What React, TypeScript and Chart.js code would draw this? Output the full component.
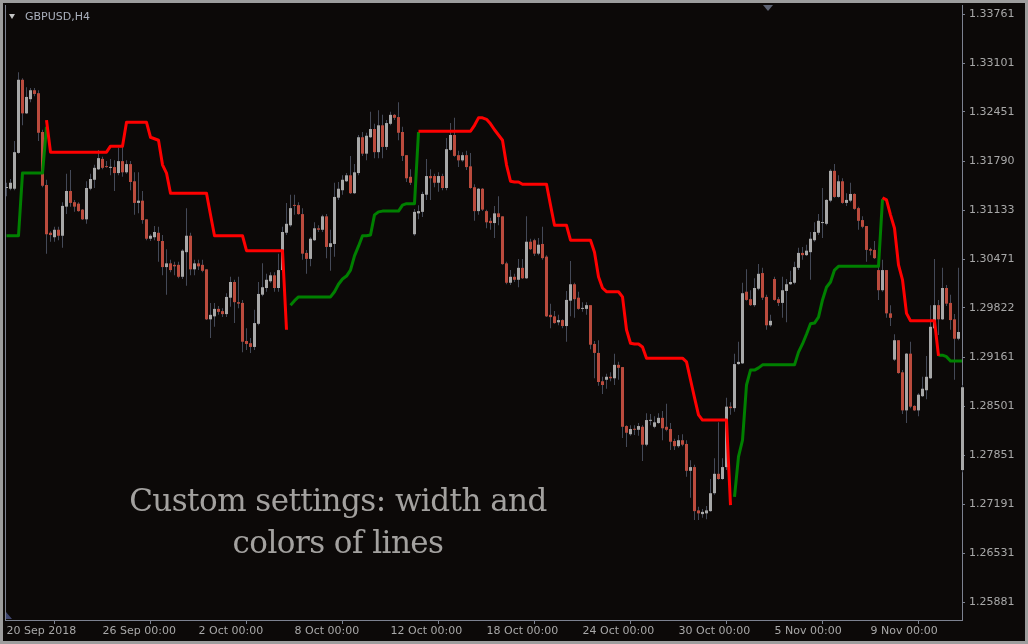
import React, { useEffect, useRef } from "react";
import { Chart, registerables } from "chart.js";

Chart.register(...registerables);

const _ = null;

// GBPUSD H4 candles, bar 0 = 20 Sep 2018 00:00
const openP = [
  1.3143, 1.3142, 1.3142, 1.3190, 1.3288, 1.3243, 1.3262, 1.3274, 1.3270, 1.3218,
  1.3147, 1.3083, 1.3077, 1.3087, 1.3079, 1.3118, 1.3139, 1.3124, 1.3122, 1.3114,
  1.3101, 1.3142, 1.3154, 1.3168, 1.3182, 1.3172, 1.3170, 1.3171, 1.3163, 1.3179,
  1.3164, 1.3175, 1.3152, 1.3123, 1.3126, 1.3101, 1.3075, 1.3077, 1.3083, 1.3072,
  1.3037, 1.3042, 1.3040, 1.3040, 1.3024, 1.3057, 1.3079, 1.3034, 1.3042, 1.3040,
  1.3034, 1.2967, 1.2971, 1.2981, 1.2978, 1.2974, 1.2996, 1.3017, 1.2990, 1.2989,
  1.2938, 1.2935, 1.2930, 1.2961, 1.3000, 1.3009, 1.3018, 1.3026, 1.3009, 1.3033,
  1.3083, 1.3093, 1.3120, 1.3120, 1.3108, 1.3056, 1.3048, 1.3073, 1.3089, 1.3087,
  1.3105, 1.3064, 1.3068, 1.3130, 1.3140, 1.3152, 1.3160, 1.3136, 1.3163, 1.3211,
  1.3189, 1.3211, 1.3222, 1.3191, 1.3227, 1.3198, 1.3229, 1.3241, 1.3238, 1.3218,
  1.3187, 1.3158, 1.3081, 1.3109, 1.3111, 1.3134, 1.3159, 1.3159, 1.3150, 1.3159,
  1.3143, 1.3194, 1.3214, 1.3187, 1.3180, 1.3187, 1.3172, 1.3144, 1.3112, 1.3142,
  1.3112, 1.3099, 1.3096, 1.3109, 1.3105, 1.3042, 1.3016, 1.3024, 1.3020, 1.3036,
  1.3022, 1.3071, 1.3073, 1.3055, 1.3068, 1.3051, 1.2973, 1.2971, 1.2963, 1.2966,
  1.2958, 1.2992, 1.3014, 1.2996, 1.2981, 1.2981, 1.2986, 1.2934, 1.2922, 1.2884,
  1.2886, 1.2890, 1.2888, 1.2906, 1.2903, 1.2824, 1.2813, 1.2820, 1.2819, 1.2823,
  1.2799, 1.2831, 1.2823, 1.2828, 1.2835, 1.2823, 1.2820, 1.2804, 1.2797, 1.2805,
  1.2800, 1.2764, 1.2769, 1.2711, 1.2706, 1.2707, 1.2710, 1.2734, 1.2760, 1.2753,
  1.2769, 1.2850, 1.2848, 1.2907, 1.2908, 1.3004, 1.2994, 1.2986, 1.3008, 1.3029,
  1.2997, 1.2959, 1.3021, 1.2994, 1.2989, 1.3005, 1.3014, 1.3016, 1.3036, 1.3056,
  1.3053, 1.3057, 1.3073, 1.3083, 1.3096, 1.3095, 1.3126, 1.3166, 1.3131, 1.3152,
  1.3123, 1.3126, 1.3135, 1.3116, 1.3100, 1.3092, 1.3061, 1.3060, 1.3033, 1.3006,
  1.3033, 1.2975, 1.2913, 1.2939, 1.2896, 1.2845, 1.2921, 1.2851, 1.2845, 1.2864,
  1.2872, 1.2888, 1.2955, 1.2986, 1.2967, 1.3009, 1.2989, 1.2967, 1.2941, 1.2765,
];

const highP = [
  1.3150, 1.3155, 1.3206, 1.3298, 1.3290, 1.3278, 1.3277, 1.3277, 1.3274, 1.3221,
  1.3154, 1.3085, 1.3091, 1.3091, 1.3124, 1.3162, 1.3167, 1.3127, 1.3124, 1.3115,
  1.3152, 1.3162, 1.3174, 1.3194, 1.3185, 1.3179, 1.3182, 1.3180, 1.3197, 1.3201,
  1.3180, 1.3179, 1.3164, 1.3164, 1.3139, 1.3101, 1.3081, 1.3092, 1.3091, 1.3080,
  1.3061, 1.3047, 1.3044, 1.3044, 1.3061, 1.3116, 1.3083, 1.3047, 1.3047, 1.3047,
  1.3034, 1.2989, 1.2989, 1.2985, 1.2982, 1.3002, 1.3024, 1.3020, 1.3024, 1.2993,
  1.2955, 1.2942, 1.2980, 1.3017, 1.3042, 1.3028, 1.3030, 1.3030, 1.3055, 1.3091,
  1.3123, 1.3134, 1.3134, 1.3124, 1.3116, 1.3060, 1.3077, 1.3097, 1.3093, 1.3107,
  1.3108, 1.3087, 1.3150, 1.3151, 1.3160, 1.3163, 1.3186, 1.3175, 1.3214, 1.3218,
  1.3217, 1.3245, 1.3229, 1.3247, 1.3241, 1.3234, 1.3245, 1.3242, 1.3258, 1.3225,
  1.3187, 1.3168, 1.3115, 1.3120, 1.3138, 1.3182, 1.3168, 1.3162, 1.3164, 1.3162,
  1.3210, 1.3230, 1.3237, 1.3193, 1.3191, 1.3193, 1.3190, 1.3148, 1.3143, 1.3143,
  1.3114, 1.3103, 1.3119, 1.3132, 1.3105, 1.3044, 1.3033, 1.3028, 1.3048, 1.3048,
  1.3105, 1.3075, 1.3075, 1.3076, 1.3091, 1.3053, 1.2988, 1.2978, 1.2973, 1.2967,
  1.3005, 1.3045, 1.3016, 1.3004, 1.2990, 1.2990, 1.2986, 1.2938, 1.2939, 1.2890,
  1.2894, 1.2896, 1.2921, 1.2910, 1.2903, 1.2825, 1.2825, 1.2825, 1.2828, 1.2825,
  1.2841, 1.2840, 1.2837, 1.2841, 1.2844, 1.2854, 1.2828, 1.2807, 1.2812, 1.2813,
  1.2805, 1.2778, 1.2772, 1.2716, 1.2713, 1.2717, 1.2753, 1.2781, 1.2829, 1.2781,
  1.2862, 1.2856, 1.2921, 1.2937, 1.3016, 1.3034, 1.3006, 1.3022, 1.3041, 1.3036,
  1.3000, 1.2973, 1.3024, 1.2997, 1.3024, 1.3021, 1.3032, 1.3044, 1.3063, 1.3064,
  1.3067, 1.3084, 1.3097, 1.3108, 1.3143, 1.3128, 1.3168, 1.3175, 1.3160, 1.3156,
  1.3136, 1.3150, 1.3136, 1.3118, 1.3105, 1.3092, 1.3063, 1.3072, 1.3038, 1.3047,
  1.3033, 1.2986, 1.2947, 1.2939, 1.2899, 1.2922, 1.2937, 1.2852, 1.2868, 1.2890,
  1.2918, 1.2986, 1.3048, 1.2993, 1.3036, 1.3013, 1.3000, 1.2974, 1.3036, 1.2879,
];

const lowP = [
  1.3132, 1.3140, 1.3140, 1.3189, 1.3227, 1.3242, 1.3258, 1.3266, 1.3206, 1.3144,
  1.3055, 1.3071, 1.3071, 1.3073, 1.3063, 1.3108, 1.3118, 1.3111, 1.3111, 1.3100,
  1.3095, 1.3140, 1.3143, 1.3167, 1.3168, 1.3170, 1.3160, 1.3139, 1.3160, 1.3158,
  1.3162, 1.3140, 1.3107, 1.3109, 1.3095, 1.3073, 1.3072, 1.3073, 1.3044, 1.3026,
  1.3000, 1.3030, 1.3026, 1.3022, 1.3021, 1.3012, 1.3026, 1.3026, 1.3033, 1.3030,
  1.2966, 1.2942, 1.2957, 1.2973, 1.2970, 1.2970, 1.2984, 1.2962, 1.2982, 1.2923,
  1.2926, 1.2922, 1.2926, 1.2959, 1.2998, 1.3004, 1.3016, 1.3004, 1.3004, 1.3030,
  1.3080, 1.3091, 1.3107, 1.3107, 1.3047, 1.3028, 1.3038, 1.3072, 1.3084, 1.3084,
  1.3049, 1.3032, 1.3051, 1.3127, 1.3134, 1.3151, 1.3135, 1.3135, 1.3160, 1.3186,
  1.3180, 1.3210, 1.3183, 1.3183, 1.3183, 1.3194, 1.3227, 1.3234, 1.3207, 1.3179,
  1.3151, 1.3147, 1.3079, 1.3101, 1.3104, 1.3127, 1.3127, 1.3144, 1.3138, 1.3140,
  1.3140, 1.3193, 1.3185, 1.3171, 1.3178, 1.3167, 1.3142, 1.3099, 1.3107, 1.3112,
  1.3089, 1.3087, 1.3076, 1.3093, 1.3040, 1.3014, 1.3013, 1.3017, 1.3010, 1.3021,
  1.3021, 1.3060, 1.3052, 1.3053, 1.3047, 1.2970, 1.2955, 1.2961, 1.2959, 1.2955,
  1.2937, 1.2971, 1.2969, 1.2980, 1.2977, 1.2973, 1.2927, 1.2888, 1.2878, 1.2867,
  1.2874, 1.2884, 1.2879, 1.2886, 1.2808, 1.2796, 1.2811, 1.2812, 1.2811, 1.2777,
  1.2797, 1.2825, 1.2821, 1.2827, 1.2805, 1.2817, 1.2792, 1.2792, 1.2795, 1.2797,
  1.2756, 1.2728, 1.2698, 1.2698, 1.2701, 1.2699, 1.2709, 1.2732, 1.2752, 1.2752,
  1.2765, 1.2839, 1.2843, 1.2906, 1.2907, 1.2992, 1.2985, 1.2984, 1.3006, 1.2993,
  1.2953, 1.2957, 1.2992, 1.2985, 1.2969, 1.2963, 1.3013, 1.3014, 1.3033, 1.3047,
  1.3052, 1.3020, 1.3071, 1.3080, 1.3076, 1.3093, 1.3124, 1.3130, 1.3130, 1.3122,
  1.3119, 1.3124, 1.3114, 1.3087, 1.3089, 1.3044, 1.3053, 1.3048, 1.2993, 1.3004,
  1.2969, 1.2958, 1.2911, 1.2894, 1.2840, 1.2828, 1.2848, 1.2844, 1.2837, 1.2863,
  1.2860, 1.2887, 1.2953, 1.2946, 1.2966, 1.2985, 1.2953, 1.2886, 1.2939, 1.2762,
];

const closeP = [
  1.3144, 1.3150, 1.3191, 1.3288, 1.3243, 1.3265, 1.3274, 1.3269, 1.3217, 1.3146,
  1.3081, 1.3080, 1.3087, 1.3079, 1.3119, 1.3139, 1.3123, 1.3118, 1.3112, 1.3101,
  1.3143, 1.3155, 1.3170, 1.3183, 1.3170, 1.3171, 1.3171, 1.3163, 1.3179, 1.3164,
  1.3175, 1.3151, 1.3123, 1.3126, 1.3100, 1.3075, 1.3079, 1.3084, 1.3072, 1.3037,
  1.3042, 1.3033, 1.3038, 1.3024, 1.3059, 1.3079, 1.3034, 1.3042, 1.3038, 1.3032,
  1.2967, 1.2973, 1.2981, 1.2977, 1.2974, 1.2997, 1.3017, 1.2990, 1.2988, 1.2937,
  1.2934, 1.2930, 1.2962, 1.3001, 1.3010, 1.3020, 1.3026, 1.3009, 1.3033, 1.3084,
  1.3095, 1.3116, 1.3119, 1.3108, 1.3055, 1.3048, 1.3075, 1.3089, 1.3087, 1.3105,
  1.3064, 1.3069, 1.3131, 1.3142, 1.3154, 1.3160, 1.3136, 1.3164, 1.3211, 1.3189,
  1.3213, 1.3222, 1.3191, 1.3227, 1.3198, 1.3230, 1.3241, 1.3237, 1.3217, 1.3186,
  1.3156, 1.3150, 1.3111, 1.3112, 1.3135, 1.3159, 1.3156, 1.3150, 1.3159, 1.3143,
  1.3195, 1.3214, 1.3186, 1.3180, 1.3187, 1.3171, 1.3143, 1.3112, 1.3142, 1.3114,
  1.3097, 1.3096, 1.3109, 1.3104, 1.3041, 1.3016, 1.3024, 1.3020, 1.3036, 1.3022,
  1.3071, 1.3061, 1.3055, 1.3067, 1.3049, 1.2971, 1.2970, 1.2962, 1.2966, 1.2958,
  1.2993, 1.3014, 1.2994, 1.2981, 1.2982, 1.2986, 1.2933, 1.2922, 1.2883, 1.2879,
  1.2890, 1.2888, 1.2906, 1.2902, 1.2823, 1.2815, 1.2820, 1.2819, 1.2824, 1.2799,
  1.2832, 1.2832, 1.2829, 1.2835, 1.2821, 1.2819, 1.2803, 1.2797, 1.2805, 1.2799,
  1.2764, 1.2769, 1.2710, 1.2707, 1.2709, 1.2711, 1.2734, 1.2760, 1.2753, 1.2769,
  1.2850, 1.2848, 1.2907, 1.2910, 1.3002, 1.2993, 1.2986, 1.3009, 1.3028, 1.2996,
  1.2959, 1.2965, 1.2993, 1.2989, 1.3006, 1.3014, 1.3017, 1.3037, 1.3056, 1.3053,
  1.3059, 1.3075, 1.3084, 1.3099, 1.3097, 1.3127, 1.3166, 1.3131, 1.3152, 1.3123,
  1.3127, 1.3135, 1.3115, 1.3099, 1.3091, 1.3060, 1.3059, 1.3049, 1.3006, 1.3033,
  1.2975, 1.2969, 1.2939, 1.2895, 1.2845, 1.2921, 1.2850, 1.2845, 1.2866, 1.2874,
  1.2890, 1.2957, 1.2986, 1.2967, 1.3009, 1.2988, 1.2966, 1.2941, 1.2950, 1.2876,
];

// Indicator: upper (red) line
const upperLine = [
  _, _, _, _, _, _, _, _, _, _,
  1.3234, 1.3191, 1.3191, 1.3191, 1.3191, 1.3191, 1.3191, 1.3191, 1.3191, 1.3191,
  1.3191, 1.3191, 1.3191, 1.3191, 1.3191, 1.3191, 1.3199, 1.3199, 1.3199, 1.3199,
  1.3231, 1.3231, 1.3231, 1.3231, 1.3231, 1.3231, 1.3211, 1.3209, 1.3207, 1.3174,
  1.3163, 1.3136, 1.3136, 1.3136, 1.3136, 1.3136, 1.3136, 1.3136, 1.3136, 1.3136,
  1.3136, 1.3107, 1.3079, 1.3079, 1.3079, 1.3079, 1.3079, 1.3079, 1.3079, 1.3079,
  1.3059, 1.3059, 1.3059, 1.3059, 1.3059, 1.3059, 1.3059, 1.3059, 1.3059, 1.3059,
  1.2953, _, _, _, _, _, _, _, _, _,
  _, _, _, _, _, _, _, _, _, _,
  _, _, _, _, _, _, _, _, _, _,
  _, _, _, 1.3219, 1.3219, 1.3219, 1.3219, 1.3219, 1.3219, 1.3219,
  1.3219, 1.3219, 1.3219, 1.3219, 1.3219, 1.3219, 1.3219, 1.3227, 1.3237, 1.3237,
  1.3235, 1.3229, 1.3221, 1.3214, 1.3207, 1.3174, 1.3152, 1.3151, 1.3151, 1.3148,
  1.3148, 1.3148, 1.3148, 1.3148, 1.3148, 1.3148, 1.3120, 1.3093, 1.3093, 1.3093,
  1.3093, 1.3073, 1.3073, 1.3073, 1.3073, 1.3073, 1.3073, 1.3057, 1.3024, 1.3009,
  1.3004, 1.3004, 1.3004, 1.3004, 1.2997, 1.2953, 1.2935, 1.2934, 1.2934, 1.2930,
  1.2915, 1.2915, 1.2915, 1.2915, 1.2915, 1.2915, 1.2915, 1.2915, 1.2915, 1.2915,
  1.2910, 1.2886, 1.2862, 1.2839, 1.2832, 1.2832, 1.2832, 1.2832, 1.2832, 1.2832,
  1.2832, 1.2718, _, _, _, _, _, _, _, _,
  _, _, _, _, _, _, _, _, _, _,
  _, _, _, _, _, _, _, _, _, _,
  _, _, _, _, _, _, _, _, _, 1.3130,
  1.3127, 1.3107, 1.3089, 1.3040, 1.3020, 1.2975, 1.2965, 1.2965, 1.2965, 1.2965,
  1.2965, 1.2965, 1.2965, 1.2918, _, _, _, _, _, _,
];

// Indicator: lower (green) line
const lowerLine = [
  1.3079, 1.3079, 1.3079, 1.3079, 1.3163, 1.3163, 1.3163, 1.3163, 1.3163, 1.3163,
  1.3225, _, _, _, _, _, _, _, _, _,
  _, _, _, _, _, _, _, _, _, _,
  _, _, _, _, _, _, _, _, _, _,
  _, _, _, _, _, _, _, _, _, _,
  _, _, _, _, _, _, _, _, _, _,
  _, _, _, _, _, _, _, _, _, _,
  _, 1.2986, 1.2992, 1.2997, 1.2997, 1.2997, 1.2997, 1.2997, 1.2997, 1.2997,
  1.2997, 1.2997, 1.3004, 1.3014, 1.3021, 1.3025, 1.3033, 1.3052, 1.3065, 1.3079,
  1.3079, 1.3080, 1.3107, 1.3111, 1.3112, 1.3112, 1.3112, 1.3112, 1.3112, 1.3120,
  1.3122, 1.3122, 1.3122, 1.3218, _, _, _, _, _, _,
  _, _, _, _, _, _, _, _, _, _,
  _, _, _, _, _, _, _, _, _, _,
  _, _, _, _, _, _, _, _, _, _,
  _, _, _, _, _, _, _, _, _, _,
  _, _, _, _, _, _, _, _, _, _,
  _, _, _, _, _, _, _, _, _, _,
  _, _, _, _, _, _, _, _, _, _,
  _, _, 1.2729, 1.2783, 1.2805, 1.2879, 1.2899, 1.2899, 1.2902, 1.2906,
  1.2906, 1.2906, 1.2906, 1.2906, 1.2906, 1.2906, 1.2906, 1.2906, 1.2923, 1.2934,
  1.2947, 1.2961, 1.2962, 1.2970, 1.2993, 1.3010, 1.3017, 1.3033, 1.3038, 1.3038,
  1.3038, 1.3038, 1.3038, 1.3038, 1.3038, 1.3038, 1.3038, 1.3038, 1.3038, 1.3128,
  _, _, _, _, _, _, _, _, _, _,
  _, _, _, 1.2919, 1.2919, 1.2917, 1.2911, 1.2911, 1.2911, 1.2911,
];

const yTickValues = [
  1.33761, 1.33101, 1.32451, 1.3179, 1.31133, 1.30471, 1.29822,
  1.29161, 1.28501, 1.27851, 1.27191, 1.26531, 1.25881,
];
const xTickBars = [0, 24, 48, 72, 96, 120, 144, 168, 192, 216];
const xTickLabels = [
  "20 Sep 2018", "26 Sep 00:00", "2 Oct 00:00", "8 Oct 00:00", "12 Oct 00:00",
  "18 Oct 00:00", "24 Oct 00:00", "30 Oct 00:00", "5 Nov 00:00", "9 Nov 00:00",
];

const BG = "#0c0908";
const AXIS = "#7d8290";
const LABEL = "#a8a8a8";
const BULL = "#a8a8a8";
const BEAR = "#bb4b3d";
const WICK = "#444957";

export default function App() {
  const ref = useRef<HTMLCanvasElement | null>(null);

  useEffect(() => {
    document.body.style.margin = "0";
    document.body.style.background = BG;
    const idx = openP.map((_v, i) => i);
    const bodyColors = idx.map((i) => (closeP[i] >= openP[i] ? BULL : BEAR));

    const leftFrame = {
      id: "leftFrame",
      afterDraw(chart: any) {
        const { ctx, chartArea } = chart;
        ctx.save();
        ctx.strokeStyle = AXIS;
        ctx.lineWidth = 1;
        ctx.beginPath();
        ctx.moveTo(chartArea.left + 0.5, chartArea.top);
        ctx.lineTo(chartArea.left + 0.5, chartArea.bottom + 1);
        ctx.stroke();
        ctx.restore();
      },
    };

    const font = { family: "'DejaVu Sans', sans-serif", size: 11 };

    const chart = new Chart(ref.current as HTMLCanvasElement, {
      type: "bar",
      data: {
        datasets: [
          {
            type: "line",
            label: "upper",
            data: idx.map((i) => ({ x: i, y: upperLine[i] })),
            borderColor: "#ff0000",
            borderWidth: 3,
            pointRadius: 0,
            spanGaps: false,
            tension: 0,
            borderJoinStyle: "round",
            order: 0,
          } as any,
          {
            type: "line",
            label: "lower",
            data: idx.map((i) => ({ x: i, y: lowerLine[i] })),
            borderColor: "#008000",
            borderWidth: 3,
            pointRadius: 0,
            spanGaps: false,
            tension: 0,
            borderJoinStyle: "round",
            order: 0,
          } as any,
          {
            type: "bar",
            label: "body",
            data: idx.map((i) => ({
              x: i,
              y: [Math.min(openP[i], closeP[i]), Math.max(openP[i], closeP[i])],
            })),
            backgroundColor: bodyColors,
            borderWidth: 0,
            barThickness: 3,
            grouped: false,
            minBarLength: 1,
            inflateAmount: 0,
            clip: false,
            order: 1,
          } as any,
          {
            type: "bar",
            label: "wick",
            data: idx.map((i) => ({ x: i, y: [lowP[i], highP[i]] })),
            backgroundColor: WICK,
            borderWidth: 0,
            barThickness: 1,
            grouped: false,
            minBarLength: 1,
            inflateAmount: 0,
            clip: false,
            order: 2,
          } as any,
        ],
      },
      options: {
        responsive: false,
        maintainAspectRatio: false,
        animation: false,
        events: [],
        layout: { padding: { left: 2, top: 2, right: 0, bottom: 0 } },
        plugins: { legend: { display: false }, tooltip: { enabled: false } },
        scales: {
          x: {
            type: "linear",
            position: "bottom",
            min: -0.375,
            max: 238.875,
            offset: false,
            grid: {
              drawOnChartArea: false,
              drawTicks: true,
              tickLength: 4,
              color: AXIS,
              tickColor: AXIS,
            },
            border: { display: true, color: AXIS, width: 1 },
            ticks: {
              align: "start",
              padding: 1,
              color: LABEL,
              font,
              maxRotation: 0,
              autoSkip: false,
              callback: (v: any) => {
                const k = xTickBars.indexOf(Number(v));
                return k >= 0 ? xTickLabels[k] : null;
              },
            },
            afterBuildTicks: (s: any) => {
              s.ticks = xTickBars.map((v) => ({ value: v }));
            },
            afterFit: (s: any) => {
              s.height = 21;
              s.paddingLeft = 0;
              s.paddingRight = 0;
              s.paddingTop = 0;
              s.paddingBottom = 0;
            },
          } as any,
          y: {
            type: "linear",
            position: "right",
            min: 1.25641,
            max: 1.33882,
            grid: {
              drawOnChartArea: false,
              drawTicks: true,
              tickLength: 3,
              color: AXIS,
              tickColor: AXIS,
            },
            border: { display: true, color: AXIS, width: 1 },
            ticks: {
              padding: 4,
              color: LABEL,
              font,
              autoSkip: false,
              callback: (v: any) => Number(v).toFixed(5),
            },
            afterBuildTicks: (s: any) => {
              s.ticks = yTickValues.map((v) => ({ value: v }));
            },
            afterFit: (s: any) => {
              s.width = 63;
              s.paddingLeft = 0;
              s.paddingRight = 0;
              s.paddingTop = 0;
              s.paddingBottom = 0;
            },
          } as any,
        },
      },
      plugins: [leftFrame],
    } as any);

    return () => chart.destroy();
  }, []);

  return (
    <div
      style={{
        position: "relative",
        width: 1028,
        height: 644,
        boxSizing: "border-box",
        border: "3px solid #9d9d9d",
        background: BG,
        overflow: "hidden",
      }}
    >
      <canvas
        ref={ref}
        width={1022}
        height={638}
        style={{ display: "block", width: 1022, height: 638 }}
      />
      <div
        style={{
          position: "absolute",
          left: 6,
          top: 11,
          width: 0,
          height: 0,
          borderLeft: "3px solid transparent",
          borderRight: "3px solid transparent",
          borderTop: "5px solid #c4c4c4",
        }}
      />
      <div
        style={{
          position: "absolute",
          left: 22,
          top: 7,
          font: "11px 'DejaVu Sans', sans-serif",
          lineHeight: "13px",
          color: "#aab0bc",
          whiteSpace: "nowrap",
        }}
      >
        GBPUSD,H4
      </div>
      <div
        style={{
          position: "absolute",
          left: 760,
          top: 2,
          width: 0,
          height: 0,
          borderLeft: "5px solid transparent",
          borderRight: "5px solid transparent",
          borderTop: "6px solid #5d6373",
        }}
      />
      <div
        style={{
          position: "absolute",
          left: 3,
          top: 609,
          width: 0,
          height: 0,
          borderRight: "6px solid transparent",
          borderBottom: "7px solid #3f4670",
        }}
      />
      <div
        style={{
          position: "absolute",
          left: 0,
          top: 477,
          width: 670,
          textAlign: "center",
          font: "31px 'DejaVu Serif', serif",
          letterSpacing: "-0.55px",
          lineHeight: "41.5px",
          color: "#a3a19f",
          whiteSpace: "nowrap",
        }}
      >
        <div>Custom settings: width and</div>
        <div>colors of lines</div>
      </div>
    </div>
  );
}
